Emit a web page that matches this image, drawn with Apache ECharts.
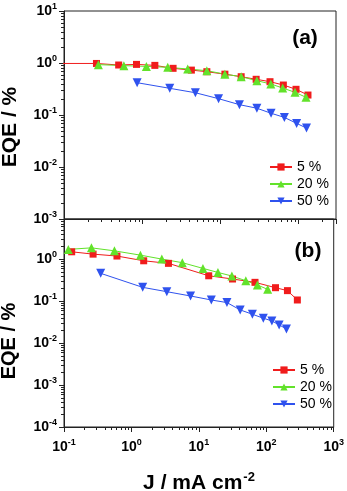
<!DOCTYPE html>
<html><head><meta charset="utf-8">
<script src="https://cdn.jsdelivr.net/npm/echarts@6/dist/echarts.min.js"></script>
<style>html,body{margin:0;padding:0;background:#fff}#c{width:347px;height:491px}</style>
</head><body><div id="c"></div>
<script>
const seriesNames = ['5 %', '20 %', '50 %'];

// Panel (a): J (mA cm^-2) and EQE (%)
const aJ5  = [0.08, 0.26, 0.50, 0.845, 1.45, 2.48, 4.25, 6.7, 11.4, 18.4, 28.6, 43, 63.7, 92.5, 131.5];
const aE5  = [0.98, 0.98, 0.915, 0.94, 0.90, 0.79, 0.73, 0.68, 0.61, 0.545, 0.486, 0.437, 0.377, 0.312, 0.242];
const aJ20 = [0.275, 0.583, 1.13, 2.12, 3.81, 6.7, 11.4, 18.4, 29.2, 44, 62.5, 89.8, 124];
const aE20 = [0.93, 0.89, 0.86, 0.826, 0.767, 0.711, 0.61, 0.545, 0.457, 0.395, 0.33, 0.273, 0.219];
const aJ50 = [0.86, 2.25, 4.78, 9.46, 17.5, 29.2, 44.4, 65.6, 94.2, 126];
const aE50 = [0.418, 0.326, 0.268, 0.206, 0.158, 0.135, 0.108, 0.090, 0.069, 0.056];

// Panel (b)
const bJ5  = [0.13, 0.27, 0.61, 1.52, 3.54, 14.0, 31.6, 68, 137, 206, 289];
const bE5  = [1.49, 1.31, 1.18, 0.91, 0.79, 0.40, 0.335, 0.279, 0.208, 0.177, 0.106];
const bJ20 = [0.116, 0.255, 0.56, 1.36, 2.82, 5.69, 11.5, 19.2, 30.9, 49.7, 73.8, 105];
const bE20 = [1.70, 1.85, 1.57, 1.24, 1.0, 0.82, 0.60, 0.48, 0.395, 0.305, 0.241, 0.19];
const bJ50 = [0.35, 1.47, 3.35, 7.54, 15.3, 26.1, 41, 62.2, 90.4, 121, 155, 199];
const bE50 = [0.457, 0.212, 0.167, 0.132, 0.106, 0.092, 0.0615, 0.0485, 0.039, 0.0337, 0.027, 0.0217];

// Axis ranges
const aXRange = [0.1, 300];
const aYRange = [0.001, 10];
const bXRange = [0.1, 1000];
const bYRange = [0.0001, 9];

const FONT = '"Liberation Sans", Arial, sans-serif';
const AX = '#222';
const colors = { red: '#f01c1c', green: '#62e22a', blue: '#2f52ee' };
const DOWN_TRI = 'path://M0,0 L10,0 L5,9 Z';

function isPow10(v) { const l = Math.log10(v); return Math.abs(l - Math.round(l)) < 1e-6; }
function powLabel(v) {
  if (!isPow10(v)) return '';
  return '{b|10}{s|' + Math.round(Math.log10(v)) + '}';
}
const labelRich = {
  b: { fontSize: 14, fontWeight: 'bold', fontFamily: FONT, color: '#000' },
  s: { fontSize: 9, fontWeight: 'bold', fontFamily: FONT, color: '#000', padding: [0, 0, 9, 0] }
};

function minorVals(lo, hi) {
  const out = [];
  for (let e = Math.floor(Math.log10(lo)); e <= Math.ceil(Math.log10(hi)); e++) {
    for (let k = 2; k <= 9; k++) {
      const v = k * Math.pow(10, e);
      if (v > lo * 1.0001 && v < hi * 0.9999) out.push(v);
    }
  }
  return out;
}

function xAxisCfg(gi, range, showLabels) {
  return {
    type: 'log', logBase: 10, gridIndex: gi, min: range[0], max: range[1],
    axisLine: { show: true, lineStyle: { color: AX, width: 1 } },
    axisTick: { show: true, length: 5, lineStyle: { color: AX, width: 1 } },
    splitLine: { show: false },
    axisLabel: { show: showLabels, formatter: powLabel, rich: labelRich, margin: 11 }
  };
}
function yAxisCfg(gi, range) {
  return {
    type: 'log', logBase: 10, gridIndex: gi, min: range[0], max: range[1],
    axisLine: { show: true, lineStyle: { color: AX, width: 1 } },
    axisTick: { show: true, length: 5, lineStyle: { color: AX, width: 1 } },
    splitLine: { show: false },
    axisLabel: { show: true, formatter: powLabel, rich: labelRich, margin: 7 }
  };
}

function lineSeries(name, J, E, gi, color, symbol, size) {
  return {
    name, type: 'line', xAxisIndex: gi, yAxisIndex: gi,
    data: J.map((j, i) => [j, E[i]]),
    symbol, symbolSize: size, showAllSymbol: true,
    lineStyle: { color, width: 1 }, itemStyle: { color },
    clip: true, z: 3
  };
}

function minorTickSeries(gi, axis, vals, fixed) {
  return {
    type: 'custom', xAxisIndex: gi, yAxisIndex: gi, silent: true, z: 4, clip: false,
    data: vals.map(v => axis === 'y' ? [fixed, v] : [v, fixed]),
    renderItem: function (params, api) {
      const p = api.coord([api.value(0), api.value(1)]);
      if (axis === 'y') {
        const y = Math.round(p[1]) + 0.5;
        return { type: 'line', shape: { x1: p[0] - 3, y1: y, x2: p[0], y2: y }, style: { stroke: AX, lineWidth: 1 } };
      } else {
        const x = Math.round(p[0]) + 0.5;
        return { type: 'line', shape: { x1: x, y1: p[1], x2: x, y2: p[1] + 3 }, style: { stroke: AX, lineWidth: 1 } };
      }
    }
  };
}

function legendCfg(left, top) {
  return {
    orient: 'vertical', left, top, itemWidth: 22, itemHeight: 9, itemGap: 3,
    data: seriesNames, selectedMode: false,
    textStyle: { fontSize: 14, fontFamily: FONT, color: '#000' }
  };
}

const option = {
  animation: false,
  backgroundColor: '#fff',
  grid: [
    { left: 64, top: 11, width: 272, height: 208, show: true, borderColor: AX, borderWidth: 1, backgroundColor: 'transparent' },
    { left: 64, top: 219, width: 272, height: 208, show: true, borderColor: AX, borderWidth: 1, backgroundColor: 'transparent' }
  ],
  xAxis: [xAxisCfg(0, aXRange, false), xAxisCfg(1, bXRange, true)],
  yAxis: [yAxisCfg(0, aYRange), yAxisCfg(1, bYRange)],
  legend: [legendCfg(264, 155), legendCfg(267, 358)],
  series: [
    lineSeries(seriesNames[0], aJ5, aE5, 0, colors.red, 'rect', 7),
    lineSeries(seriesNames[1], aJ20, aE20, 0, colors.green, 'triangle', 9),
    lineSeries(seriesNames[2], aJ50, aE50, 0, colors.blue, DOWN_TRI, 9),
    lineSeries(seriesNames[0], bJ5, bE5, 1, colors.red, 'rect', 7),
    lineSeries(seriesNames[1], bJ20, bE20, 1, colors.green, 'triangle', 9),
    lineSeries(seriesNames[2], bJ50, bE50, 1, colors.blue, DOWN_TRI, 9),
    minorTickSeries(0, 'y', minorVals(aYRange[0], aYRange[1]), aXRange[0]),
    minorTickSeries(0, 'x', minorVals(aXRange[0], aXRange[1]), aYRange[0]),
    minorTickSeries(1, 'y', minorVals(bYRange[0], bYRange[1]), bXRange[0]),
    minorTickSeries(1, 'x', minorVals(bXRange[0], bXRange[1]), bYRange[0])
  ],
  graphic: [
    { type: 'text', x: 10, y: 127, rotation: Math.PI / 2, style: { text: 'EQE / %', font: 'bold 21px ' + FONT, fill: '#000', align: 'center', verticalAlign: 'middle' } },
    { type: 'text', x: 9, y: 341, rotation: Math.PI / 2, style: { text: 'EQE / %', font: 'bold 20px ' + FONT, fill: '#000', align: 'center', verticalAlign: 'middle' } },
    { type: 'text', x: 199, y: 483, style: {
        text: '{b|J / mA cm}{s|-2}', align: 'center', verticalAlign: 'middle',
        rich: { b: { fontSize: 21, fontWeight: 'bold', fontFamily: FONT, fill: '#000' },
                s: { fontSize: 13, fontWeight: 'bold', fontFamily: FONT, fill: '#000', padding: [0, 0, 12, 1] } } } },
    { type: 'text', x: 305, y: 38, style: { text: '(a)', font: 'bold 21px ' + FONT, fill: '#000', align: 'center', verticalAlign: 'middle' } },
    { type: 'text', x: 308, y: 251, style: { text: '(b)', font: 'bold 21px ' + FONT, fill: '#000', align: 'center', verticalAlign: 'middle' } }
  ]
};

const chart = echarts.init(document.getElementById('c'), null, { renderer: 'canvas' });
chart.setOption(option);
</script>
</body></html>
